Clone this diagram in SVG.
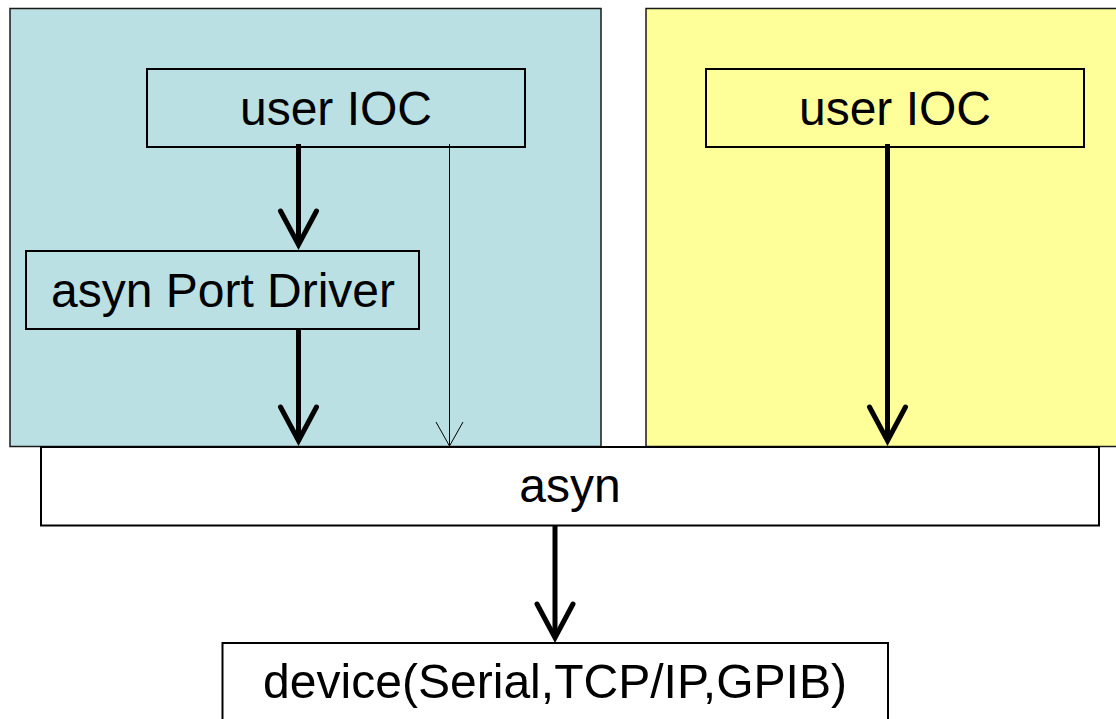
<svg xmlns="http://www.w3.org/2000/svg" width="1116" height="719" viewBox="0 0 1116 719">
<style>
.panel{stroke:#1a1a1a;stroke-width:1.5}
.box{stroke:#000;stroke-width:2}
.lbl{font-family:"Liberation Sans",Arial,sans-serif;font-size:48px;fill:#000;text-anchor:middle}
.thick{stroke:#000;stroke-width:5;fill:none}
.thin{stroke:#000;stroke-width:1;fill:none}
</style>
<defs>
<marker id="headThick" markerUnits="userSpaceOnUse" orient="auto" refX="0" refY="0" markerWidth="60" markerHeight="60" viewBox="-40 -25 60 50" overflow="visible">
<path d="M-31,-18 L2.8,0 L-31,18" fill="none" stroke="#000" stroke-width="5" stroke-linecap="round" stroke-linejoin="miter" stroke-miterlimit="10"/>
</marker>
<marker id="headThin" markerUnits="userSpaceOnUse" orient="auto" refX="0" refY="0" markerWidth="40" markerHeight="40" viewBox="-30 -20 40 40" overflow="visible">
<path d="M-24,-13.5 L0,0 L-24,13.5" fill="none" stroke="#000" stroke-width="1"/>
</marker>
</defs>
<rect width="1116" height="719" fill="#fff"/>
<g id="panel-left"><rect class="panel" x="10" y="8.5" width="591" height="438" fill="#BBE0E3"/></g>
<g id="panel-right"><rect class="panel" x="646" y="8.5" width="480" height="438" fill="#FFFF99"/></g>
<g id="node-ioc-left">
<rect class="box" x="147" y="69" width="378" height="78" fill="#BBE0E3"/>
<text class="lbl" x="336" y="125">user IOC</text>
</g>
<g id="node-port-driver">
<rect class="box" x="26" y="251" width="393" height="78" fill="#BBE0E3"/>
<text class="lbl" x="223" y="307">asyn Port Driver</text>
</g>
<g id="node-ioc-right">
<rect class="box" x="706" y="69" width="378" height="78" fill="#FFFF99"/>
<text class="lbl" x="895" y="125">user IOC</text>
</g>
<g id="node-asyn">
<rect class="box" x="41" y="447" width="1058" height="78.5" fill="#fff"/>
<text class="lbl" x="570" y="502">asyn</text>
</g>
<g id="node-device">
<rect class="box" x="222.5" y="643" width="665.5" height="80" fill="#fff"/>
<text class="lbl" x="555" y="698" textLength="584" lengthAdjust="spacingAndGlyphs">device(Serial,TCP/IP,GPIB)</text>
</g>
<g id="connectors">
<line class="thick" x1="298.5" y1="144" x2="298.5" y2="242" marker-end="url(#headThick)"/>
<line class="thick" x1="298.5" y1="329" x2="298.5" y2="438" marker-end="url(#headThick)"/>
<line class="thin" x1="449.5" y1="144" x2="449.5" y2="446" marker-end="url(#headThin)"/>
<line class="thick" x1="887.5" y1="144" x2="887.5" y2="438" marker-end="url(#headThick)"/>
<line class="thick" x1="555" y1="526" x2="555" y2="635" marker-end="url(#headThick)"/>
</g>
</svg>
